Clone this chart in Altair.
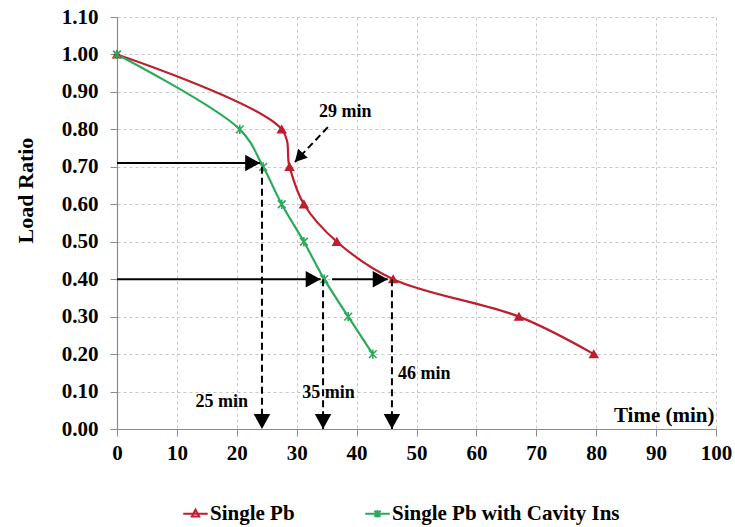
import altair as alt
import pandas as pd

# ---- data ----
series_names = ["Single Pb", "Single Pb with Cavity Ins"]
pb_time = [0, 27.5, 28.8, 31.2, 36.7, 46.1, 67.1, 79.6]
pb_load = [1.00, 0.80, 0.70, 0.60, 0.50, 0.40, 0.30, 0.20]
cav_time = [0, 20.5, 24.4, 27.5, 31.2, 34.6, 38.6, 42.7]
cav_load = [1.00, 0.80, 0.70, 0.60, 0.50, 0.40, 0.30, 0.20]

# arrows: solid horizontal, dashed vertical / diagonal
solid_x1 = [0, 0, 35.9]
solid_x2 = [23.9, 34.0, 45.2]
solid_y = [0.71, 0.40, 0.40]
dash_x1 = [24.2, 34.4, 45.9, 35.2]
dash_y1 = [0.70, 0.40, 0.40, 0.806]
dash_x2 = [24.2, 34.4, 45.9, 29.7]
dash_y2 = [0.0, 0.0, 0.0, 0.713]

label_text = ["29 min", "25 min", "35 min", "46 min"]
label_x = [38.1, 17.5, 35.3, 51.3]
label_y = [0.846, 0.073, 0.097, 0.147]

x_ticks = [0, 10, 20, 30, 40, 50, 60, 70, 80, 90, 100]
y_ticks = [0.0, 0.1, 0.2, 0.3, 0.4, 0.5, 0.6, 0.7, 0.8, 0.9, 1.0, 1.1]

RED = "#BE1E2D"
GREEN = "#2BAA5C"
FONT = "Liberation Serif"

df = pd.DataFrame({
    "time": pb_time + cav_time,
    "load": pb_load + cav_load,
    "series": [series_names[0]] * len(pb_time) + [series_names[1]] * len(cav_time),
    "order": list(range(len(pb_time))) + list(range(len(cav_time))),
})

solid_df = pd.DataFrame({"time": solid_x1, "x2": solid_x2, "load": solid_y, "y2": solid_y})
dash_df = pd.DataFrame({"time": dash_x1, "x2": dash_x2, "load": dash_y1, "y2": dash_y2})

# arrow heads at tips
head_x = solid_x2 + dash_x2
head_y = solid_y + dash_y2
head_ang = [0, 0, 0, 90, 90, 90, 133]
head_size = [900, 900, 900, 900, 900, 900, 560]
heads_df = pd.DataFrame({"time": head_x, "load": head_y, "ang": head_ang, "size": head_size})

labels_df = pd.DataFrame({"text": label_text, "time": label_x, "load": label_y})

xscale = alt.Scale(domain=[0, 100], nice=False)
yscale = alt.Scale(domain=[0, 1.1], nice=False)

xaxis = alt.Axis(
    values=x_ticks, title="Time (min)", titleX=597, titleY=-8,
    titleAlign="right", titleBaseline="alphabetic", titleFontSize=21,
    labelPadding=6, labelFlush=False, labelOverlap=False,
)
yaxis = alt.Axis(
    values=y_ticks, format=".2f", title="Load Ratio",
    titleFontSize=22, titleX=-92, titleY=173, titleAlign="center", titleBaseline="middle",
    titleAngle=270, labelPadding=12, labelOverlap=False, labelFlush=False,
)

color_scale = alt.Scale(domain=series_names, range=[RED, GREEN])
ASTER = "M-1,-1L1,1M-1,1L1,-1M0,-1.2L0,1.2"
shape_scale = alt.Scale(domain=series_names, range=["triangle-up", ASTER])

X = alt.X("time:Q", scale=xscale, axis=xaxis)
Y = alt.Y("load:Q", scale=yscale, axis=yaxis)

lines = alt.Chart(df).mark_line(interpolate="catmull-rom", strokeWidth=2.2).encode(
    x=X, y=Y,
    color=alt.Color("series:N", scale=color_scale, legend=None),
    order="order:Q",
)

points = alt.Chart(df).mark_point(size=60, strokeWidth=1.6, opacity=1).encode(
    x=X, y=Y,
    fill=alt.Fill("series:N", scale=alt.Scale(domain=series_names, range=[RED, "transparent"]), legend=None),
    stroke=alt.Stroke("series:N", scale=color_scale, legend=None),
    shape=alt.Shape("series:N", scale=shape_scale, legend=None),
)

# legend layer (hidden marks, visible legend)
LEG_TRI = "M-1,0H1M0,-0.33L0.3,0.22L-0.3,0.22Z"
LEG_AST = "M-1,0H1M-0.25,-0.25L0.25,0.25M-0.25,0.25L0.25,-0.25M0,-0.3L0,0.3"
legend_layer = alt.Chart(df).mark_point(opacity=0, filled=False).encode(
    x=X, y=Y,
    stroke=alt.Stroke("series:N", scale=alt.Scale(domain=series_names, range=[RED, GREEN]),
                      legend=alt.Legend(title=None, orient="none", legendX=65, legendY=483,
                                        direction="horizontal", symbolSize=600,
                                        symbolStrokeWidth=2, symbolOpacity=1,
                                        labelFont=FONT, labelFontSize=21, labelFontWeight="bold",
                                        labelColor="black", columnPadding=66, labelOffset=1,
                                        labelLimit=400)),
    fill=alt.Fill("series:N", scale=alt.Scale(domain=series_names, range=[RED, GREEN])),
    shape=alt.Shape("series:N", scale=alt.Scale(domain=series_names, range=[LEG_TRI, LEG_AST])),
)

solid = alt.Chart(solid_df).mark_rule(color="black", strokeWidth=2).encode(
    x=X, x2="x2:Q", y=Y, y2="y2:Q")

dashed = alt.Chart(dash_df).mark_rule(color="black", strokeWidth=2, strokeDash=[7, 4]).encode(
    x=X, x2="x2:Q", y=Y, y2="y2:Q")

HEAD = "M0,0L-1,-0.55L-1,0.55Z"
heads = alt.Chart(heads_df).mark_point(shape=HEAD, filled=True, color="black", opacity=1).encode(
    x=X, y=Y,
    angle=alt.Angle("ang:Q", scale=None),
    size=alt.Size("size:Q", scale=None, legend=None),
)

labels = alt.Chart(labels_df).mark_text(font=FONT, fontSize=18, fontWeight="bold", color="black").encode(
    x=X, y=Y, text="text:N")

chart = alt.layer(lines, points, legend_layer, solid, dashed, heads, labels).resolve_scale(
    fill="independent", shape="independent", stroke="independent"
).properties(
    width=599, height=412,
    autosize=alt.AutoSizeParams(type="none"),
    padding={"left": 117, "top": 17, "right": 19, "bottom": 98},
).configure_view(stroke=None).configure_axis(
    labelFont=FONT, labelFontSize=21, labelFontWeight="bold", labelColor="black",
    titleFont=FONT, titleFontWeight="bold", titleColor="black",
    domainColor="#8c8c8c", domainWidth=1.2, tickColor="#8c8c8c", tickSize=7,
    gridColor="#c8c8c8", gridDash=[3, 3], gridWidth=1,
)

chart.save("out.html", embed_options={"renderer": "svg", "actions": False})
